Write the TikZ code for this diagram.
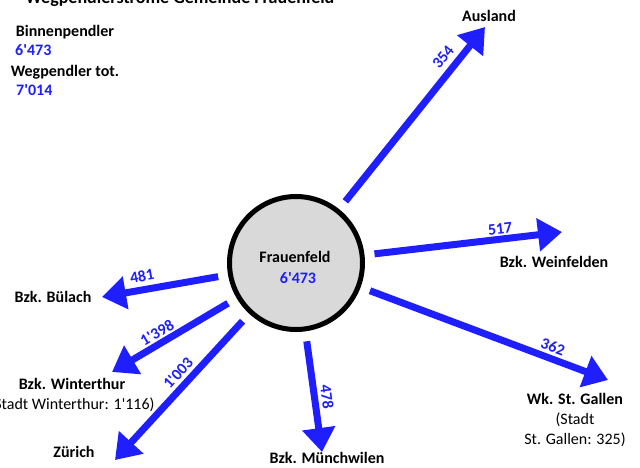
\documentclass[tikz,border=0pt]{standalone}
\usepackage{fontspec}
\setmainfont{Carlito}[Ligatures=TeXOff]
\usetikzlibrary{arrows.meta}
\definecolor{flowblue}{RGB}{30,30,255}
\definecolor{circgray}{RGB}{217,217,217}
\tikzset{
  flow/.style={draw=flowblue, line width=7pt, shorten <=10pt,
    -{Triangle[length=24pt,width=32pt]}},
  lbl/.style={font=\fontsize{16}{18}\selectfont\bfseries, text=black, inner sep=0pt},
  sub/.style={font=\fontsize{16}{18}\selectfont, text=black, inner sep=0pt},
  num/.style={font=\fontsize{16}{18}\selectfont\bfseries, text=flowblue, inner sep=0pt},
  center/.style={circle, draw=black, line width=5pt, fill=circgray, minimum size=133pt, inner sep=0pt}
}
\begin{document}
\begin{tikzpicture}[x=1pt,y=-1pt]
\useasboundingbox (0,0) rectangle (640,467);
% title (cut off at top)
\node[lbl, font=\fontsize{18}{20}\selectfont\bfseries, anchor=base] (title) at (180,3) {Wegpendlerströme Gemeinde Frauenfeld};
% left info
\node[lbl] (bp) at (65,32) {Binnenpendler};
\node[num, anchor=west] (bpn) at (15,50) {6'473};
\node[lbl] (wp) at (65,72) {Wegpendler tot.};
\node[num, anchor=west] (wpn) at (16,90) {7'014};
% center
\node[center] (F) at (296,263) {};
\node[lbl] (Fname) at (295,257) {Frauenfeld};
\node[num] (Fnum) at (298,278) {6'473};
% arrow tips
\coordinate (tA) at (485,27);
\coordinate (tW) at (562,232);
\coordinate (tS) at (608,380);
\coordinate (tM) at (322,452);
\coordinate (tZ) at (115,460);
\coordinate (tT) at (112,372);
\coordinate (tB) at (102,297);
% arrows
\draw[flow] (F) -- (tA);
\draw[flow] (F) -- (tW);
\draw[flow] (F) -- (tS);
\draw[flow] (F) -- (tM);
\draw[flow] (F) -- (tZ);
\draw[flow] (F) -- (tT);
\draw[flow] (F) -- (tB);
% numbers
\node[num, rotate=50.5] (nA) at (443,57) {354};
\node[num, rotate=6.5] (nW) at (500,229) {517};
\node[num, rotate=-20] (nS) at (553,347) {362};
\node[num, rotate=-83] (nM) at (327,397) {478};
\node[num, rotate=47.5] (nZ) at (178,373) {1'003};
\node[num, rotate=30.2] (nT) at (157,333) {1'398};
\node[num, rotate=10.3] (nB) at (142,276) {481};
% destination labels
\node[lbl] (lA) at (489,16) {Ausland};
\node[lbl] (lW) at (554,262) {Bzk. Weinfelden};
\node[lbl] (lS) at (575,399) {Wk. St. Gallen};
\node[sub] (lS2) at (575,420) {(Stadt};
\node[sub] (lS3) at (575,440) {St. Gallen: 325)};
\node[lbl] (lM) at (327,458) {Bzk. Münchwilen};
\node[lbl] (lZ) at (74,452) {Zürich};
\node[lbl] (lT) at (72,384) {Bzk. Winterthur};
\node[sub] (lT2) at (72,405) {(Stadt Winterthur: 1'116)};
\node[lbl] (lB) at (53,297) {Bzk. Bülach};
\end{tikzpicture}
\end{document}
